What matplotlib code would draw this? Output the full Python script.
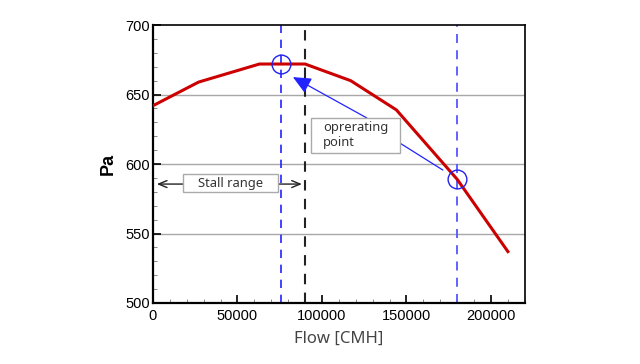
import matplotlib
matplotlib.use("Agg")
import matplotlib.pyplot as plt
from matplotlib.ticker import MultipleLocator
from matplotlib.patches import Rectangle

flow = [0, 27000, 63000, 90000, 117000, 144000, 180000, 210000]
pressure = [642, 659, 672, 672, 660, 639, 589, 537]
op_flow = [76000, 180000]
op_pressure = [672, 589]
stall_limit = 90000
xticks = [0, 50000, 100000, 150000, 200000]
yticks = [500, 550, 600, 650, 700]

fig = plt.figure(figsize=(6.4, 3.64), dpi=100)
ax = fig.add_axes([0.239, 0.1676, 0.581, 0.7634])

ax.set_xlim(0, 220000)
ax.set_ylim(500, 700)
for y in [550, 600, 650]:
    ax.axhline(y, color="#a8a8a8", lw=1.0, zorder=0)

ax.plot(flow, pressure, color="#cc0000", lw=2.2, zorder=3)
ax.axvline(op_flow[0], color="#2222ff", lw=1.2, ls=(0, (5, 4)), zorder=2)
ax.axvline(op_flow[1], color="#5555ff", lw=1.3, ls=(0, (5, 4)), zorder=2)
ax.axvline(stall_limit, color="#222222", lw=1.5, ls=(0, (5, 4)), zorder=2)
ax.plot(op_flow, op_pressure, "o", ms=13.5, mfc="none", mec="#2222ee", mew=1.0, zorder=4)

# operating point annotation
ax.annotate("", xy=(82800, 662.6), xytext=(126500, 633.2),
            arrowprops=dict(arrowstyle="-|>,head_length=1.1,head_width=0.5",
                            color="#2222ff", lw=0.9, shrinkA=0, shrinkB=0), zorder=5)
ax.annotate("", xy=(171500, 595.7), xytext=(146100, 615.1),
            arrowprops=dict(arrowstyle="-", color="#2222ff", lw=0.9,
                            shrinkA=0, shrinkB=0), zorder=5)
ax.add_patch(Rectangle((93440, 607.9), 52640, 25.4, fc="white", ec="#aaaaaa",
                       lw=1.0, zorder=6))
ax.text(100540, 620.8, "oprerating\npoint", fontsize=9.3, family="Noto Sans",
        color="#333333", va="center", ha="left", linespacing=1.2, zorder=7)

# stall range
ax.annotate("", xy=(2300, 585.6), xytext=(88100, 585.6),
            arrowprops=dict(arrowstyle="<->,head_length=0.6,head_width=0.25",
                            color="#222222", lw=1.0, shrinkA=0, shrinkB=0), zorder=5)
ax.add_patch(Rectangle((17740, 579.9), 56180, 12.9, fc="white", ec="#aaaaaa",
                       lw=1.0, zorder=6))
ax.text(45830, 586.3, "Stall range", fontsize=9.3, family="Noto Sans", color="#333333",
        va="center", ha="center", zorder=7)

ax.set_xticks(xticks)
ax.set_yticks(yticks)
ax.xaxis.set_minor_locator(MultipleLocator(10000))
ax.yaxis.set_minor_locator(MultipleLocator(10))
ax.tick_params(which="both", direction="in", top=False, right=False)
ax.tick_params(which="major", length=6, width=1.2, labelsize=10.5)
ax.tick_params(which="minor", length=3, width=0.6, color="#777777")
for lab in ax.get_xticklabels() + ax.get_yticklabels():
    lab.set_family("Liberation Sans")
ax.tick_params(axis="y", pad=2)
ax.tick_params(axis="x", pad=4)

for s in ["left", "bottom"]:
    ax.spines[s].set_linewidth(1.6)
for s in ["top", "right"]:
    ax.spines[s].set_linewidth(1.2)

ax.set_xlabel("Flow [CMH]", fontsize=12, family="Noto Sans", color="#444444", labelpad=6)
ax.set_ylabel("Pa", fontsize=13, family="Liberation Sans", fontweight="bold", labelpad=6)

fig.savefig("out.png", dpi=100)
